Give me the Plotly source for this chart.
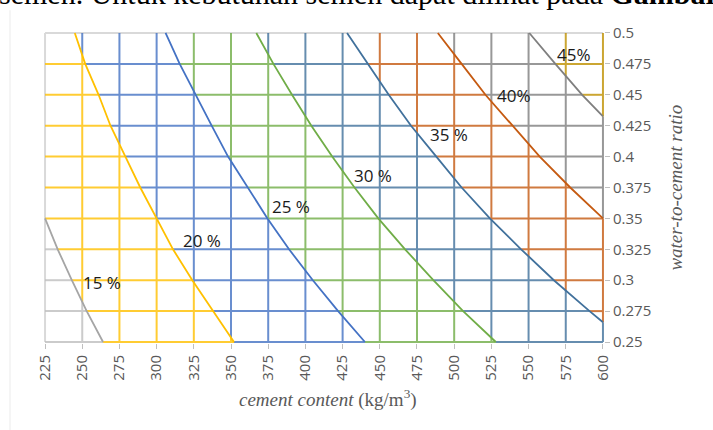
import numpy as np
import plotly.graph_objects as go

# ---------------- data ----------------
CEMENT_TICKS = [225, 250, 275, 300, 325, 350, 375, 400, 425, 450, 475, 500, 525, 550, 575, 600]
WC_TICKS = [0.25, 0.275, 0.3, 0.325, 0.35, 0.375, 0.4, 0.425, 0.45, 0.475, 0.5]
WC_LABELS = ["0.25", "0.275", "0.3", "0.325", "0.35", "0.375", "0.4", "0.425", "0.45", "0.475", "0.5"]

# paste-volume curves: water-to-cement ratio (y) vs cement content (x)
P15_WC = [0.25, 0.275, 0.3, 0.325, 0.35]
P15_C = [264, 253, 243, 233.5, 225]
P20_WC = WC_TICKS
P20_C = [352, 338, 324, 311, 300, 289, 279, 269, 261, 252, 245]
P25_WC = WC_TICKS
P25_C = [440, 422, 405, 389, 374.5, 361, 348, 337, 326, 315.5, 306]
P30_WC = WC_TICKS
P30_C = [528, 506, 486, 467, 449, 433, 418, 404, 391, 378.5, 367]
P35_WC = [0.266, 0.275, 0.3, 0.325, 0.35, 0.375, 0.4, 0.425, 0.45, 0.475, 0.5]
P35_C = [600, 591, 567, 545, 524, 505, 488, 471, 456, 442, 428]
P40_WC = [0.35, 0.375, 0.4, 0.425, 0.45, 0.475, 0.5]
P40_C = [600, 578, 557.5, 539, 521, 505, 489]
P45_WC = [0.4325, 0.45, 0.475, 0.5]
P45_C = [600, 586, 568, 550.5]

CURVE_LABELS = ["15 %", "20 %", "25 %", "30 %", "35 %", "40%", "45%"]
LABEL_X = [263.6, 330.2, 390.3, 445.1, 496.5, 539.9, 580.2]
LABEL_Y = [0.298, 0.332, 0.3597, 0.385, 0.418, 0.4494, 0.4826]

CURVES = [(P15_WC, P15_C), (P20_WC, P20_C), (P25_WC, P25_C), (P30_WC, P30_C),
          (P35_WC, P35_C), (P40_WC, P40_C), (P45_WC, P45_C)]
CURVE_COLORS = ["#A5A5A5", "#FFC000", "#4472C4", "#70AD47", "#41719C", "#C55A11", "#7F7F7F"]
REGION_COLORS = ["#BFBFBF", "#FFC000", "#4472C4", "#70AD47", "#41719C", "#C55A11", "#7F7F7F", "#BF9000"]

XMIN, XMAX = CEMENT_TICKS[0], CEMENT_TICKS[-1]
YMIN, YMAX = WC_TICKS[0], WC_TICKS[-1]


def curve_x(k, y):
    wc, c = CURVES[k]
    if y > max(wc) + 1e-9:
        return -np.inf
    if y < min(wc) - 1e-9:
        return np.inf
    return float(np.interp(y, wc, c))


def curve_y(k, x):
    wc, c = CURVES[k]
    if min(c) <= x <= max(c):
        return float(np.interp(x, c[::-1], wc[::-1]))
    return None


def region(x, y):
    return sum(1 for k in range(len(CURVES)) if x > curve_x(k, y))


segs = {i: ([], []) for i in range(len(REGION_COLORS))}
# horizontal grid lines
for y in WC_TICKS[:-1]:
    bps = sorted(v for v in (curve_x(k, y) for k in range(len(CURVES))) if XMIN < v < XMAX)
    pts = [XMIN] + bps + [XMAX]
    for a, b in zip(pts[:-1], pts[1:]):
        r = region((a + b) / 2, y)
        segs[r][0].extend([a, b, None])
        segs[r][1].extend([y, y, None])
# vertical grid lines
for x in CEMENT_TICKS[1:]:
    bps = []
    for k in range(len(CURVES)):
        v = curve_y(k, x)
        if v is not None and YMIN < v < YMAX:
            bps.append(v)
    pts = [YMIN] + sorted(bps) + [YMAX]
    for a, b in zip(pts[:-1], pts[1:]):
        r = region(x, (a + b) / 2)
        segs[r][0].extend([x, x, None])
        segs[r][1].extend([a, b, None])

fig = go.Figure()
for r, (xs, ys) in segs.items():
    if xs:
        fig.add_trace(go.Scatter(x=xs, y=ys, mode="lines", opacity=0.8,
                                 line=dict(color=REGION_COLORS[r], width=2),
                                 hoverinfo="skip", showlegend=False))
for k, (wc, c) in enumerate(CURVES):
    fig.add_trace(go.Scatter(x=c, y=wc, mode="lines",
                             line=dict(color=CURVE_COLORS[k], width=1.8),
                             name=CURVE_LABELS[k], showlegend=False))

for t, lx, ly in zip(CURVE_LABELS, LABEL_X, LABEL_Y):
    fig.add_annotation(x=lx, y=ly, text=t, showarrow=False,
                       font=dict(family="Open Sans", size=17, color="#1a1a1a"))

# plot-area left / top borders
fig.add_shape(type="line", x0=XMIN, x1=XMIN, y0=YMIN, y1=YMAX, layer="below",
              line=dict(color="#D9D9D9", width=2))
fig.add_shape(type="line", x0=XMIN, x1=XMAX, y0=YMAX, y1=YMAX, layer="below",
              line=dict(color="#D9D9D9", width=2))
# outer chart frame edge
fig.add_shape(type="line", xref="paper", yref="paper", x0=-0.0607, x1=-0.0607, y0=-0.3, y1=1.07,
              line=dict(color="#EBEBEB", width=1))

fig.add_annotation(xref="paper", yref="paper", x=0.507, y=-0.177, xanchor="center", yanchor="middle",
                   showarrow=False,
                   text="<i>cement content</i> (kg/m<sup>3</sup>)",
                   font=dict(family="Liberation Serif", size=19, color="#595959"))
fig.add_annotation(xref="paper", yref="paper", x=1.127, y=0.5, xanchor="center", yanchor="middle",
                   showarrow=False, textangle=-90,
                   text="<i>water-to-cement ratio</i>",
                   font=dict(family="Liberation Serif", size=19, color="#595959"))
fig.add_annotation(xref="paper", yref="paper", x=-0.084, y=1.1254, xanchor="left", yanchor="middle",
                   showarrow=False,
                   text="semen. Untuk kebutuhan semen dapat dilihat pada <b>Gambar</b>",
                   font=dict(family="Liberation Serif", size=30, color="#000000"))

fig.update_layout(
    width=713, height=430,
    margin=dict(l=44, r=109, t=32, b=87, autoexpand=False),
    paper_bgcolor="white", plot_bgcolor="white",
    xaxis=dict(range=[224.3, 600.7], tickvals=CEMENT_TICKS, ticktext=[str(v) for v in CEMENT_TICKS],
               tickangle=-90, showgrid=False, zeroline=False, showline=False, automargin=False,
               ticks="outside", ticklen=5, tickcolor="#BFBFBF",
               tickfont=dict(family="Open Sans", size=15, color="#595959")),
    yaxis=dict(range=[0.2492, 0.5008], side="right", tickvals=WC_TICKS, ticktext=WC_LABELS,
               showgrid=False, zeroline=False, showline=False, automargin=False,
               ticks="outside", ticklen=5, tickcolor="#BFBFBF",
               tickfont=dict(family="Open Sans", size=15, color="#595959")),
)

fig.write_html("out.html", config={"displayModeBar": False},
               post_script="document.body.style.margin='0px';")
